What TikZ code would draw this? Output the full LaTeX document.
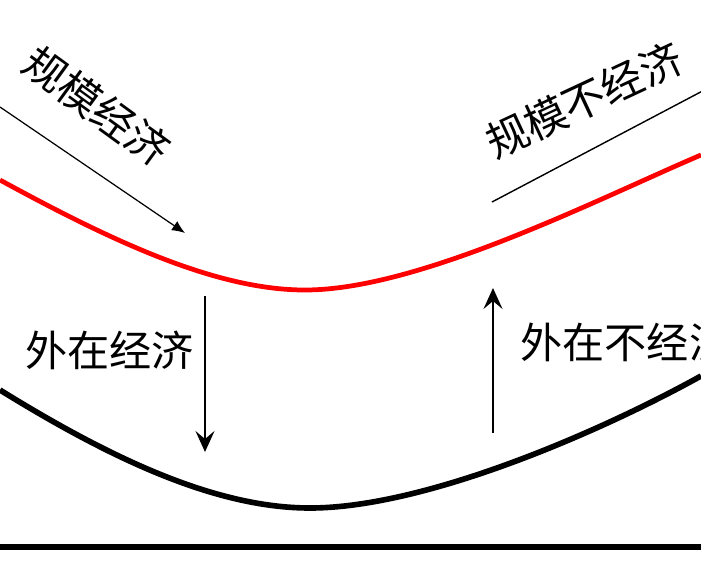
\documentclass[tikz,border=0pt]{standalone}
\usepackage{fontspec}
\newfontfamily\cjk{Noto Sans CJK SC}
\usetikzlibrary{arrows.meta}
\tikzset{
  lbl/.style={font=\cjk\fontsize{24}{24}\selectfont, inner sep=0pt},
  slbl/.style={font=\cjk\fontsize{24}{24}\selectfont, inner sep=0pt},
  extarrow/.style={line width=0.9pt, -{Stealth[length=0.42cm,width=0.38cm,inset=0.16cm]}}
}
\begin{document}
\begin{tikzpicture}[x=0.02cm,y=-0.02cm]
\clip (0,0) rectangle (701,579);
% cost curves
\draw[red,line width=2.7pt] (0,180) .. controls (110,240) and (215,290) .. (305,290) coordinate (R)
  .. controls (420,290) and (600,198) .. (701,155);
\draw[line width=3.2pt] (0,390) .. controls (110,458) and (215,508) .. (310,508) coordinate (K)
  .. controls (425,508) and (600,432) .. (701,376);
\draw[line width=3.5pt] (0,547) coordinate (O)--(701,547) coordinate (E);
% scale
\coordinate (A) at (0,107);
\coordinate (B) at (185,233);
\draw[line width=0.7pt,-{Latex[length=0.26cm,width=0.22cm]}] (A)--(B);
\node[slbl,rotate=-36] (se) at (97,106) {规模经济};
\coordinate (C) at (492,202);
\coordinate (D) at (712,86);
\draw[line width=0.8pt] (C)--(D);
\node[slbl,rotate=25] (sd) at (584,100) {规模不经济};
% external
\coordinate (P) at (205,296);
\coordinate (Q) at (205,452);
\draw[extarrow] (P)--(Q);
\node[lbl,anchor=west] (ee) at (25,350) {外在经济};
\coordinate (S) at (493,433);
\coordinate (T) at (493,288);
\draw[extarrow] (S)--(T);
\node[lbl,anchor=west] (ed) at (520,342) {外在不经济};
\end{tikzpicture}
\end{document}
